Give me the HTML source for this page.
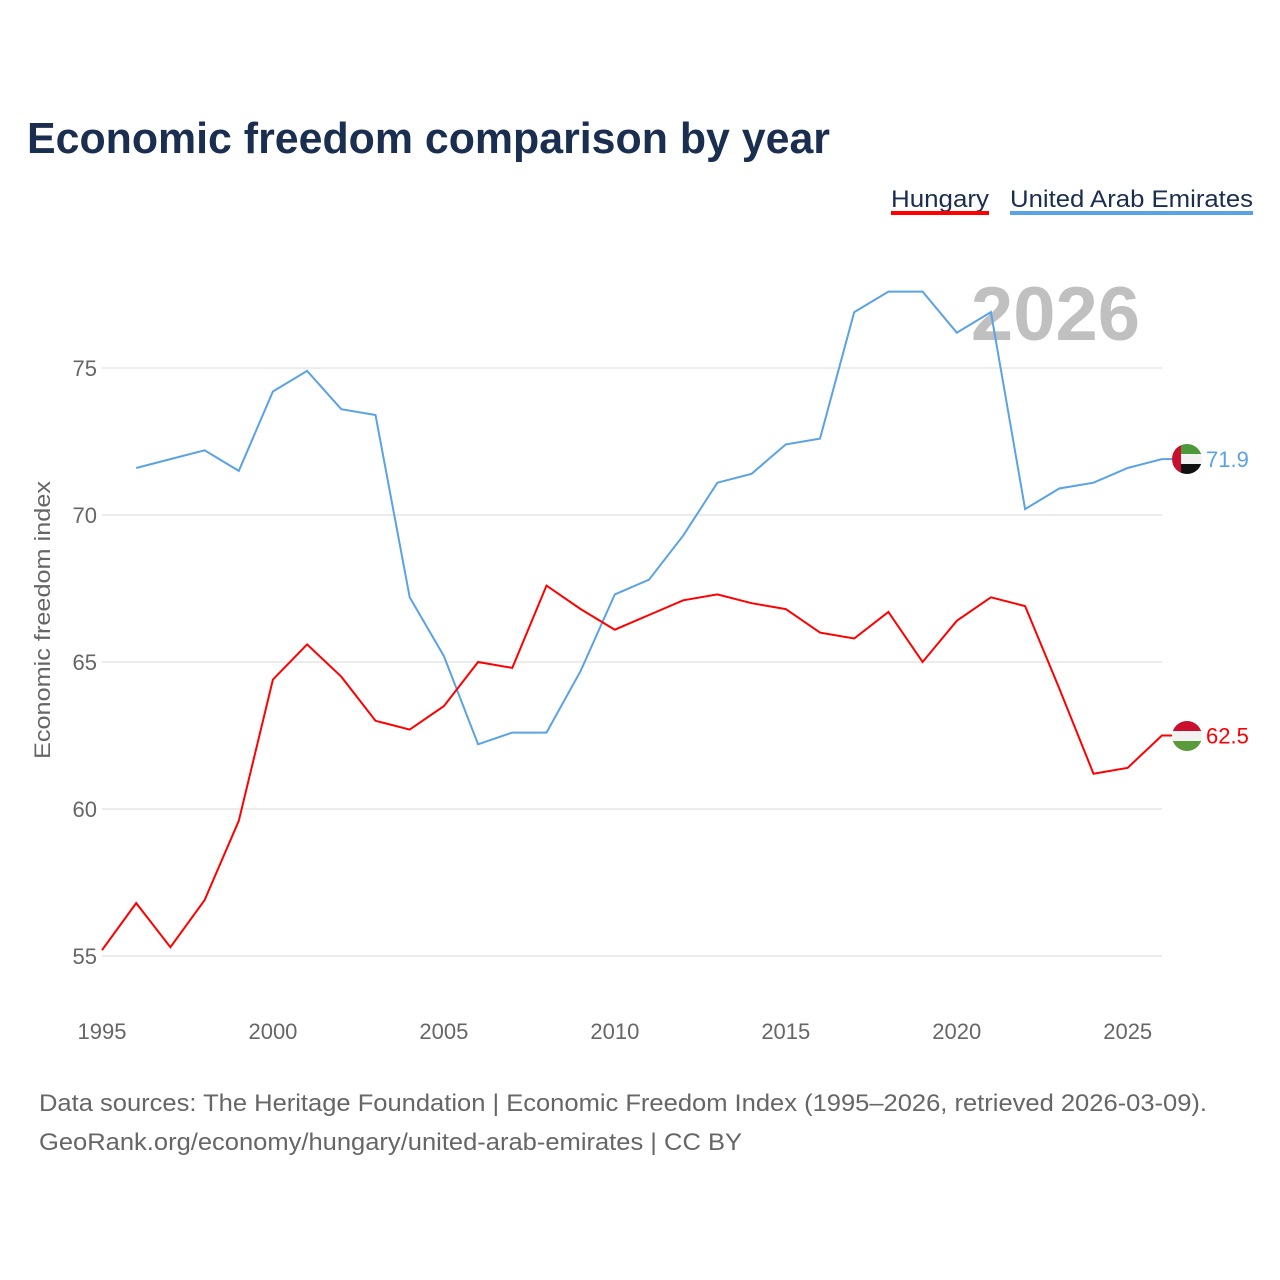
<!DOCTYPE html>
<html><head><meta charset="utf-8">
<style>
html,body{margin:0;padding:0;background:#fff;}
body{width:1280px;height:1280px;position:relative;font-family:"Liberation Sans",sans-serif;overflow:hidden;}
</style></head>
<body>
<svg id="chart" width="1280" height="1280" xmlns="http://www.w3.org/2000/svg" style="position:absolute;left:0;top:0">
<defs>
<clipPath id="flagclip-uae"><circle cx="1187" cy="459" r="15"/></clipPath>
<clipPath id="flagclip-hu"><circle cx="1187" cy="736" r="15"/></clipPath>
</defs>
<text x="27" y="153" font-size="44" font-weight="bold" fill="#1a2e4f" textLength="803" lengthAdjust="spacingAndGlyphs">Economic freedom comparison by year</text>
<g>
<text x="891" y="207" font-size="24" fill="#1a2e4f" textLength="98" lengthAdjust="spacingAndGlyphs">Hungary</text>
<rect x="891" y="211" width="98" height="4" fill="#ff0000"/>
<text x="1010" y="207" font-size="24" fill="#1a2e4f" textLength="243" lengthAdjust="spacingAndGlyphs">United Arab Emirates</text>
<rect x="1010" y="211" width="243" height="4" fill="#5aa2e6"/>
</g>
<text x="1140" y="340" text-anchor="end" font-size="76" font-weight="bold" fill="#c0c0c0">2026</text>
<g id="grid"></g>
<g id="xticks"></g>
<g id="series"></g>
<g clip-path="url(#flagclip-uae)">
<rect x="1172" y="444" width="30" height="10" fill="#4a9a3a"/>
<rect x="1172" y="454" width="30" height="10" fill="#f2f2f2"/>
<rect x="1172" y="464" width="30" height="10" fill="#111"/>
<rect x="1172" y="444" width="9" height="30" fill="#c8102e"/>
</g>
<g clip-path="url(#flagclip-hu)">
<rect x="1172" y="721" width="30" height="10" fill="#c8102e"/>
<rect x="1172" y="731" width="30" height="10" fill="#f2f2f2"/>
<rect x="1172" y="741" width="30" height="10" fill="#5a9a3a"/>
</g>
<text transform="translate(50,620) rotate(-90)" text-anchor="middle" font-size="22" fill="#666" textLength="278" lengthAdjust="spacingAndGlyphs">Economic freedom index</text>
<text x="39" y="1111" font-size="24" fill="#666" textLength="1168" lengthAdjust="spacingAndGlyphs">Data sources: The Heritage Foundation | Economic Freedom Index (1995–2026, retrieved 2026-03-09).</text>
<text x="39" y="1150" font-size="24" fill="#666" textLength="703" lengthAdjust="spacingAndGlyphs">GeoRank.org/economy/hungary/united-arab-emirates | CC BY</text>
</svg>
<script>
const years=[1995,1996,1997,1998,1999,2000,2001,2002,2003,2004,2005,2006,2007,2008,2009,2010,2011,2012,2013,2014,2015,2016,2017,2018,2019,2020,2021,2022,2023,2024,2025,2026];
const hungary=[55.2,56.8,55.3,56.9,59.6,64.4,65.6,64.5,63.0,62.7,63.5,65.0,64.8,67.6,66.8,66.1,66.6,67.1,67.3,67.0,66.8,66.0,65.8,66.7,65.0,66.4,67.2,66.9,64.1,61.2,61.4,62.5];
const uae=[null,71.6,71.9,72.2,71.5,74.2,74.9,73.6,73.4,67.2,65.2,62.2,62.6,62.6,64.7,67.3,67.8,69.3,71.1,71.4,72.4,72.6,76.9,77.6,77.6,76.2,76.9,70.2,70.9,71.1,71.6,71.9];
const yTicks=[55,60,65,70,75];
const xTicks=[1995,2000,2005,2010,2015,2020,2025];
const NS="http://www.w3.org/2000/svg";
const xs=y=>102+(y-1995)*34.19;
const ys=v=>368+(75-v)*29.4;
function el(tag,attrs,parent){const e=document.createElementNS(NS,tag);for(const k in attrs)e.setAttribute(k,attrs[k]);parent.appendChild(e);return e;}
const grid=document.getElementById('grid');
yTicks.forEach(v=>{
  const l=el('line',{x1:102,x2:1162,y1:ys(v),y2:ys(v),stroke:'#e6e6e6','stroke-width':1.5},grid);
  
  
  const t=el('text',{x:97,y:ys(v)+8,'text-anchor':'end','font-size':22,fill:'#666'},grid);
  t.textContent=v;
  
  
});
const xt=document.getElementById('xticks');
xTicks.forEach(y=>{
  const t=el('text',{x:xs(y),y:1039,'text-anchor':'middle','font-size':22,fill:'#666'},xt);
  t.textContent=y;
  
  
});
const sg=document.getElementById('series');
function draw(vals,color,name){
  let d='';vals.forEach((v,i)=>{if(v==null)return;d+=(d?'L':'M')+xs(years[i]).toFixed(1)+','+ys(v).toFixed(1);});
  const last=vals[vals.length-1];
  d+='L1172,'+ys(last).toFixed(1);
  const p=el('path',{d:d,fill:'none',stroke:color,'stroke-width':2},sg);
  
  
  const t=el('text',{x:1206,y:ys(last)+8,'font-size':22,fill:color},sg);
  t.textContent=last.toFixed(1);
  
  
}
draw(uae,'#5aa2e6','uae');
draw(hungary,'#ff0000','hungary');
</script>
</body></html>
